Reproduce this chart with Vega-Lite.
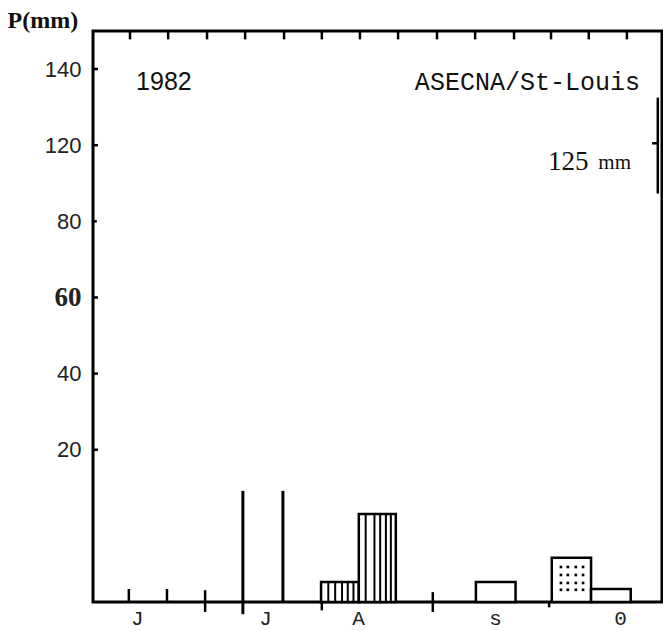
{
  "$schema": "https://vega.github.io/schema/vega-lite/v6.json",
  "width": 569,
  "height": 571,
  "autosize": "none",
  "padding": {"left": 93, "top": 31, "right": 1, "bottom": 29},
  "background": "white",
  "config": {"view": {"stroke": "black", "strokeWidth": 3}},
  "datasets": {
    "bars": [
      {"month": "A", "x0": 5.98, "x1": 6.97, "p": 5.25},
      {"month": "A", "x0": 6.97, "x1": 7.94, "p": 23.1},
      {"month": "S", "x0": 10.04, "x1": 11.08, "p": 5.25},
      {"month": "O", "x0": 12.03, "x1": 13.06, "p": 11.6},
      {"month": "O", "x0": 13.06, "x1": 14.1, "p": 3.4}
    ],
    "hatch": [
      {"x": 6.17, "top": 5.25}, {"x": 6.35, "top": 5.25}, {"x": 6.53, "top": 5.25}, {"x": 6.68, "top": 5.25}, {"x": 6.83, "top": 5.25},
      {"x": 7.15, "top": 23.1}, {"x": 7.38, "top": 23.1}, {"x": 7.53, "top": 23.1}, {"x": 7.68, "top": 23.1}, {"x": 7.81, "top": 23.1}
    ],
    "jlines": [
      {"x": 3.93, "lo": -3.2, "hi": 29.2},
      {"x": 4.98, "lo": 0, "hi": 29.2}
    ],
    "vticks": [
      {"x": 0.94, "lo": 0, "hi": 3.4}, {"x": 1.94, "lo": 0, "hi": 3.4}, {"x": 2.94, "lo": -2.6, "hi": 3.1},
      {"x": 6.0, "lo": -2.2, "hi": 0}, {"x": 8.91, "lo": -2.6, "hi": 2.6}, {"x": 11.96, "lo": -1.4, "hi": 0},
      {"x": 0.97, "lo": 147.8, "hi": 150}, {"x": 1.97, "lo": 147.8, "hi": 150}, {"x": 2.99, "lo": 147.8, "hi": 150},
      {"x": 3.99, "lo": 147.8, "hi": 150}, {"x": 5.01, "lo": 147.8, "hi": 150}, {"x": 6.0, "lo": 147.8, "hi": 150},
      {"x": 7.0, "lo": 147.8, "hi": 150}, {"x": 8.0, "lo": 147.8, "hi": 150}, {"x": 9.02, "lo": 147.8, "hi": 150},
      {"x": 10.02, "lo": 147.8, "hi": 150}, {"x": 11.04, "lo": 147.8, "hi": 150}, {"x": 12.01, "lo": 147.8, "hi": 150},
      {"x": 13.0, "lo": 147.8, "hi": 150}, {"x": 14.0, "lo": 147.8, "hi": 150},
      {"x": 14.81, "lo": 107.3, "hi": 132.5}
    ],
    "hticks": [
      {"y": 140, "x0": 0, "x1": 0.13}, {"y": 120, "x0": 0, "x1": 0.13}, {"y": 100, "x0": 0, "x1": 0.1},
      {"y": 80, "x0": 0, "x1": 0.13}, {"y": 60, "x0": 0, "x1": 0.13}, {"y": 40, "x0": 0, "x1": 0.13},
      {"y": 120.5, "x0": 14.66, "x1": 14.81}
    ],
    "dots": [
      {"x": 12.27, "y": 9.2}, {"x": 12.45, "y": 9.2}, {"x": 12.66, "y": 9.2}, {"x": 12.85, "y": 9.2},
      {"x": 12.27, "y": 7.1}, {"x": 12.45, "y": 7.1}, {"x": 12.66, "y": 7.1}, {"x": 12.85, "y": 7.1},
      {"x": 12.27, "y": 5.0}, {"x": 12.45, "y": 5.0}, {"x": 12.66, "y": 5.0}, {"x": 12.85, "y": 5.0},
      {"x": 12.27, "y": 3.2}, {"x": 12.45, "y": 3.2}, {"x": 12.66, "y": 3.2}, {"x": 12.85, "y": 3.2}
    ]
  },
  "layer": [
    {
      "data": {"name": "bars"},
      "mark": {"type": "bar", "fill": "white", "stroke": "black", "strokeWidth": 2.5, "clip": false},
      "encoding": {
        "x": {
          "field": "x0", "type": "quantitative",
          "scale": {"domain": [0, 14.92], "nice": false, "zero": false},
          "axis": {
            "orient": "bottom", "title": null, "values": [1.15, 4.51, 6.95, 10.54, 13.82],
            "labelExpr": "datum.value < 2 ? 'J' : datum.value < 5 ? 'J' : datum.value < 8 ? 'A' : datum.value < 12 ? 's' : '0'",
            "ticks": false, "tickSize": 0, "domain": false, "grid": false,
            "labelPadding": 5, "labelFont": "Liberation Mono", "labelFontSize": 21, "labelColor": "#222",
            "labelFlush": false, "labelOverlap": false
          }
        },
        "x2": {"field": "x1"},
        "y": {
          "field": "p", "type": "quantitative",
          "scale": {"domain": [0, 150], "nice": false},
          "axis": {
            "title": "P(mm)", "titleAngle": 0, "titleAlign": "left", "titleBaseline": "middle",
            "titleX": -86, "titleY": -11, "titleFont": "Liberation Serif", "titleFontWeight": "bold",
            "titleFontSize": 24, "titleColor": "#111",
            "values": [140, 120, 100, 80, 60, 40],
            "labelExpr": "datum.value == 100 ? '80' : datum.value == 80 ? '60' : datum.value == 60 ? '40' : datum.value == 40 ? '20' : datum.label",
            "ticks": false, "tickSize": 0, "domain": false, "grid": false, "labelPadding": 12,
            "labelFont": {"condition": {"test": "datum.value == 80", "value": "Liberation Serif"}, "value": "Liberation Sans"},
            "labelFontWeight": {"condition": {"test": "datum.value == 80", "value": "bold"}, "value": "normal"},
            "labelFontSize": {"condition": {"test": "datum.value == 80", "value": 27}, "value": 22},
            "labelColor": "#222"
          }
        },
        "y2": {"datum": 0}
      }
    },
    {
      "data": {"name": "hatch"},
      "mark": {"type": "rule", "color": "black", "strokeWidth": 2},
      "encoding": {
        "x": {"field": "x", "type": "quantitative"},
        "y": {"field": "top", "type": "quantitative"},
        "y2": {"datum": 0}
      }
    },
    {
      "data": {"name": "jlines"},
      "mark": {"type": "rule", "color": "black", "strokeWidth": 3, "clip": false},
      "encoding": {
        "x": {"field": "x", "type": "quantitative"},
        "y": {"field": "lo", "type": "quantitative"},
        "y2": {"field": "hi"}
      }
    },
    {
      "data": {"name": "vticks"},
      "mark": {"type": "rule", "color": "black", "strokeWidth": 2.5, "clip": false},
      "encoding": {
        "x": {"field": "x", "type": "quantitative"},
        "y": {"field": "lo", "type": "quantitative"},
        "y2": {"field": "hi"}
      }
    },
    {
      "data": {"name": "hticks"},
      "mark": {"type": "rule", "color": "black", "strokeWidth": 2.5, "clip": false},
      "encoding": {
        "x": {"field": "x0", "type": "quantitative"},
        "x2": {"field": "x1"},
        "y": {"field": "y", "type": "quantitative"}
      }
    },
    {
      "data": {"name": "dots"},
      "mark": {"type": "square", "color": "black", "size": 7, "opacity": 1},
      "encoding": {
        "x": {"field": "x", "type": "quantitative"},
        "y": {"field": "y", "type": "quantitative"}
      }
    },
    {
      "data": {"values": [{"t": "1982", "x": 1.86, "y": 136.5}]},
      "mark": {"type": "text", "font": "Liberation Sans", "fontSize": 25, "align": "center", "baseline": "middle", "color": "#111"},
      "encoding": {
        "x": {"field": "x", "type": "quantitative"},
        "y": {"field": "y", "type": "quantitative"},
        "text": {"field": "t"}
      }
    },
    {
      "data": {"values": [{"t": "ASECNA/St-Louis", "x": 8.44, "y": 136.5}]},
      "mark": {"type": "text", "font": "Liberation Mono", "fontSize": 25, "align": "left", "baseline": "middle", "color": "#111"},
      "encoding": {
        "x": {"field": "x", "type": "quantitative"},
        "y": {"field": "y", "type": "quantitative"},
        "text": {"field": "t"}
      }
    },
    {
      "data": {"values": [{"t": "125", "x": 11.93, "y": 115.7}]},
      "mark": {"type": "text", "font": "Liberation Serif", "fontSize": 27, "align": "left", "baseline": "middle", "color": "#111"},
      "encoding": {
        "x": {"field": "x", "type": "quantitative"},
        "y": {"field": "y", "type": "quantitative"},
        "text": {"field": "t"}
      }
    },
    {
      "data": {"values": [{"t": "mm", "x": 13.25, "y": 115.3}]},
      "mark": {"type": "text", "font": "Liberation Serif", "fontSize": 21, "align": "left", "baseline": "middle", "color": "#111"},
      "encoding": {
        "x": {"field": "x", "type": "quantitative"},
        "y": {"field": "y", "type": "quantitative"},
        "text": {"field": "t"}
      }
    }
  ]
}
